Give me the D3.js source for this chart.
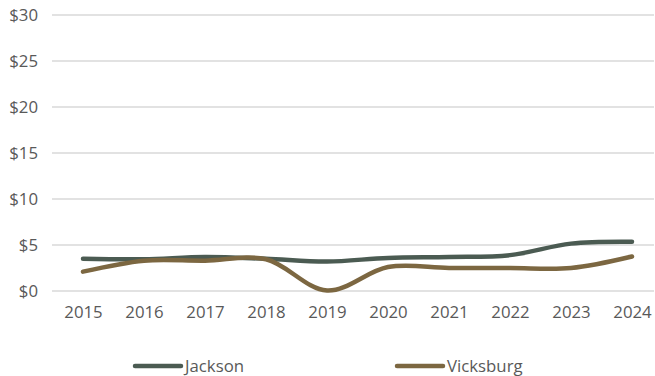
<!DOCTYPE html>
<html><head><meta charset="utf-8">
<script src="https://cdn.jsdelivr.net/npm/d3@7/dist/d3.min.js"></script>
<style>body{margin:0;background:#fff}svg{display:block}</style>
</head><body>
<svg id="c" width="655" height="376"></svg>
<script>
const years = ["2015","2016","2017","2018","2019","2020","2021","2022","2023","2024"];
const jackson = [3.5,3.45,3.7,3.5,3.2,3.6,3.7,3.9,5.15,5.35];
const vicksburg = [2.1,3.3,3.3,3.45,0.05,2.6,2.5,2.5,2.5,3.75];
const yTicks = [0,5,10,15,20,25,30];
const seriesNames = ["Jackson","Vicksburg"];
const colors = ["#4b5b52","#7c6741"];

const svg = d3.select("#c");
const x = d3.scalePoint().domain(years).range([83,632]);
const y = d3.scaleLinear().domain([0,30]).range([291,15]);
const font = "'Open Sans', sans-serif";
const fs = "16.8px";

// gridlines
svg.append("g").selectAll("line").data(yTicks).join("line")
  .attr("x1",52).attr("x2",654).attr("y1",d=>y(d)).attr("y2",d=>y(d))
  .attr("stroke","#d9d9d9").attr("stroke-width",1.3);

// y axis labels
const yAxis = d3.axisLeft(y).tickValues(yTicks).tickSize(0).tickPadding(0).tickFormat(d=>"$"+d);
const gy = svg.append("g").attr("transform","translate(38,0)").call(yAxis);
gy.select(".domain").remove();
gy.selectAll("text").attr("font-family",font).attr("font-size",fs).attr("fill","#595959").attr("dy","0.34em");

// x axis labels
const xAxis = d3.axisBottom(x).tickSize(0).tickPadding(0);
const gx = svg.append("g").attr("transform","translate(0,306)").call(xAxis);
gx.select(".domain").remove();
gx.selectAll("text").attr("font-family",font).attr("font-size",fs).attr("fill","#595959").attr("dy","0.71em");

const line = d3.line().x((d,i)=>x(years[i])).y(d=>y(d)).curve(d3.curveCatmullRom.alpha(0.5));
[jackson,vicksburg].forEach((s,k)=>{
  svg.append("path").attr("d",line(s)).attr("fill","none")
    .attr("stroke",colors[k]).attr("stroke-width",4.5).attr("stroke-linecap","round");
});

// legend
const legX = [135,397];
const lg = svg.append("g").selectAll("g").data(seriesNames).join("g")
  .attr("transform",(d,i)=>`translate(${legX[i]},366)`);
lg.append("line").attr("x1",0).attr("x2",46).attr("stroke",(d,i)=>colors[i]).attr("stroke-width",4.5).attr("stroke-linecap","round");
lg.append("text").attr("x",50).attr("dy","0.36em").text(d=>d)
  .attr("font-family",font).attr("font-size",fs).attr("fill","#595959");
</script>
</body></html>
